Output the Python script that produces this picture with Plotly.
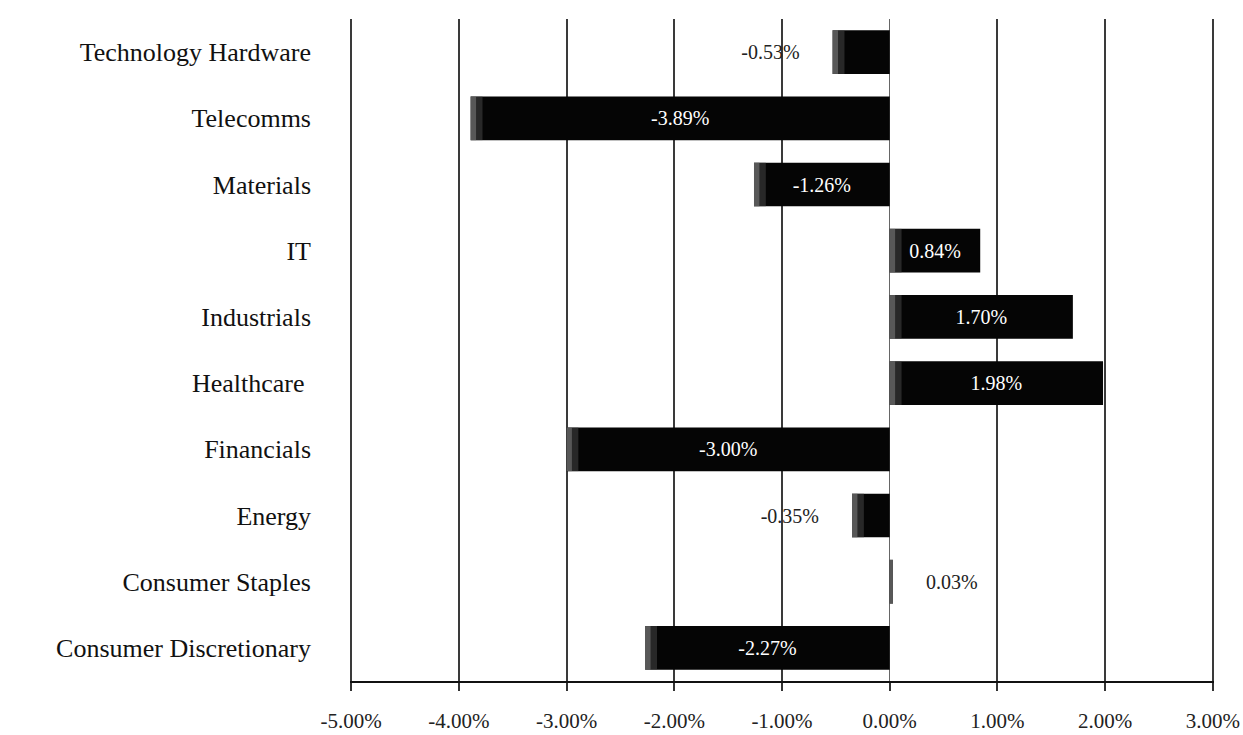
import plotly.graph_objects as go

# Sector relative returns (%), listed top to bottom
sectors = [
    "Technology Hardware",
    "Telecomms",
    "Materials",
    "IT",
    "Industrials",
    "Healthcare ",
    "Financials",
    "Energy",
    "Consumer Staples",
    "Consumer Discretionary",
]
returns_pct = [-0.53, -3.89, -1.26, 0.84, 1.70, 1.98, -3.00, -0.35, 0.03, -2.27]
tick_values = [-5, -4, -3, -2, -1, 0, 1, 2, 3]

serif = "Liberation Serif, Times New Roman, serif"
NBSP = "\u00a0"

# Short bars carry their label outside, padded away from the bar end
positions, labels = [], []
for v in returns_pct:
    txt = f"{v:.2f}%"
    if abs(v) < 0.6:
        positions.append("outside")
        pad = NBSP * 6
        labels.append(txt + pad if v < 0 else pad + txt)
    else:
        positions.append("inside")
        labels.append(txt)

# Left end of each bar, where the shading starts
left_ends = [min(v, 0) for v in returns_pct]
shade_a = [min(0.05, abs(v)) for v in returns_pct]
shade_b = [min(0.11, abs(v)) for v in returns_pct]

fig = go.Figure()
fig.add_trace(
    go.Bar(
        x=returns_pct,
        y=sectors,
        orientation="h",
        marker=dict(color="#050505", line=dict(width=0)),
        text=labels,
        textposition=positions,
        insidetextanchor="middle",
        insidetextfont=dict(family=serif, size=20, color="white"),
        outsidetextfont=dict(family=serif, size=20, color="#222"),
        cliponaxis=False,
        hoverinfo="skip",
    )
)
# soft grey shading at the left edge of every bar
fig.add_trace(
    go.Bar(
        x=shade_b, base=left_ends, y=sectors, orientation="h",
        marker=dict(color="rgba(70,70,70,0.55)", line=dict(width=0)),
        hoverinfo="skip",
    )
)
fig.add_trace(
    go.Bar(
        x=shade_a, base=left_ends, y=sectors, orientation="h",
        marker=dict(color="rgba(120,120,120,0.6)", line=dict(width=0)),
        hoverinfo="skip",
    )
)

fig.update_layout(
    width=1243,
    height=735,
    paper_bgcolor="white",
    plot_bgcolor="white",
    margin=dict(l=350, r=29, t=19, b=54),
    barmode="overlay",
    bargap=0.34,
    showlegend=False,
    font=dict(family=serif, color="#111"),
)

fig.update_xaxes(
    range=[-5.01, 3.01],
    tickvals=tick_values,
    ticktext=[f"{v:.2f}%" for v in tick_values],
    tickfont=dict(family=serif, size=21, color="#222"),
    showgrid=True,
    gridcolor="#3a3a3a",
    gridwidth=1.6,
    zeroline=True,
    zerolinecolor="#666",
    zerolinewidth=1,
    showline=True,
    linecolor="#111",
    linewidth=2,
    ticks="outside",
    ticklen=8,
    tickcolor="#333",
    tickwidth=1.5,
    ticklabelstandoff=12,
    automargin=False,
)

fig.update_yaxes(
    autorange="reversed",
    tickfont=dict(family=serif, size=26, color="#111"),
    showgrid=False,
    showline=False,
    ticks="",
    ticklabelstandoff=38,
    automargin=False,
)

fig.write_html("out.html")
